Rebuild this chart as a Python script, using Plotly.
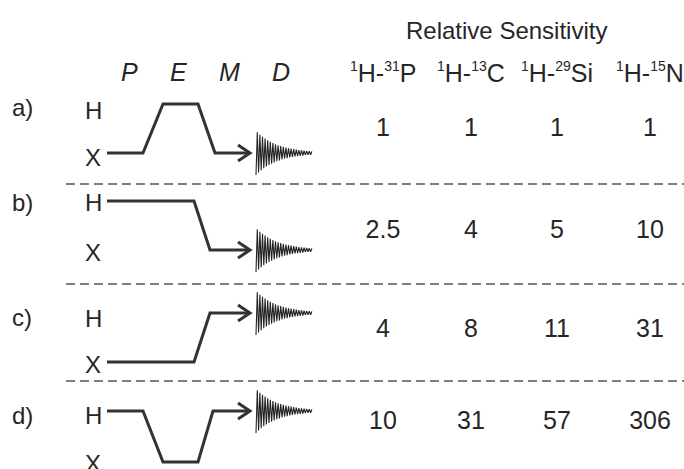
import plotly.graph_objects as go

# ---------------- data ----------------
title_text = "Relative Sensitivity"
header_mass_H = ["1", "1", "1", "1"]
header_mass_X = ["31", "13", "29", "15"]
header_elem_X = ["P", "C", "Si", "N"]
row_labels = ["a)", "b)", "c)", "d)"]
stage_labels = ["P", "E", "M", "D"]
values_31P = ["1", "2.5", "4", "10"]
values_13C = ["1", "4", "8", "31"]
values_29Si = ["1", "5", "11", "57"]
values_15N = ["1", "10", "31", "306"]
# FID peak amplitudes (alternating sign)
fid_peaks = [22, 20.7, 19.5, 18.3, 17.2, 16.2, 15.3, 14.4, 13.5, 12.7, 12, 11.3,
             10.6, 10, 9.4, 8.8, 8.3, 7.8, 7.4, 6.9, 6.5, 6.1, 5.8, 5.4, 5.1,
             4.8, 4.5, 4.3, 4, 3.8, 3.5, 3.3, 3.1, 3, 2.8, 2.6, 2.5, 2.3, 2.2,
             2.1, 1.9, 1.8, 1.7, 1.6]

# ---------------- geometry (pixel layout) ----------------
col_x = [383, 471, 557, 650]
value_row_y = [130, 232, 331, 423]
header_y = 72
stage_x = [129, 178, 229, 281]
label_row_y = [107, 202, 317, 415]
H_label_y = [110, 202, 318, 415]
X_label_y = [157, 252, 364, 463]
pathways = [
    ([107, 143, 163, 198, 215, 250], [153, 153, 104, 104, 153, 153]),
    ([107, 194, 210, 250], [201, 201, 250, 250]),
    ([107, 194, 210, 250], [362, 362, 313, 313]),
    ([107, 143, 163, 198, 213, 250], [411, 411, 462, 462, 411, 411]),
]
divider_y = [184, 284, 381]
fid_x0 = 256
fid_dx = 1.3

TXT = "#262626"
LINE = "#333333"
FONT = "Liberation Sans, Arial, sans-serif"


def sup(s):
    return "<sup><span style='font-size:14px'>" + s + "</span></sup>"


fig = go.Figure()

# dashed dividers
for yd in divider_y:
    fig.add_trace(go.Scatter(x=[66, 684], y=[yd, yd], mode="lines",
                             line=dict(color="#555555", width=1.6, dash="9px,5px"),
                             hoverinfo="skip", showlegend=False))

# pathways, arrows, FIDs
for px, py in pathways:
    fig.add_trace(go.Scatter(x=px, y=py, mode="lines",
                             line=dict(color=LINE, width=3), showlegend=False,
                             hoverinfo="skip"))
    tx, ty = px[-1], py[-1]
    fig.add_trace(go.Scatter(x=[tx - 12, tx, tx - 12], y=[ty - 8, ty, ty + 8],
                             mode="lines", line=dict(color=LINE, width=3),
                             showlegend=False, hoverinfo="skip"))
    fx = [fid_x0 + i * fid_dx for i in range(len(fid_peaks))]
    fy = [ty + (a if i % 2 == 0 else -a) for i, a in enumerate(fid_peaks)]
    fig.add_trace(go.Scatter(x=fx, y=fy, mode="lines",
                             line=dict(color="#222222", width=1.1),
                             showlegend=False, hoverinfo="skip"))

# values table
all_values = [values_31P, values_13C, values_29Si, values_15N]
for cx, vals in zip(col_x, all_values):
    fig.add_trace(go.Scatter(x=[cx] * len(vals), y=value_row_y, mode="text",
                             text=vals, textposition="middle center",
                             textfont=dict(family=FONT, size=25, color=TXT),
                             showlegend=False, hoverinfo="skip"))

ann = []
ann.append(dict(x=506, y=30, text=title_text, font=dict(family=FONT, size=24, color=TXT)))
for cx, mh, mx, ex in zip(col_x, header_mass_H, header_mass_X, header_elem_X):
    ann.append(dict(x=cx, y=header_y, text=sup(mh) + "H-" + sup(mx) + ex,
                    font=dict(family=FONT, size=25, color=TXT)))
for sx, s in zip(stage_x, stage_labels):
    ann.append(dict(x=sx, y=header_y, text="<i>" + s + "</i>",
                    font=dict(family=FONT, size=25, color=TXT)))
for ly, lab in zip(label_row_y, row_labels):
    ann.append(dict(x=22, y=ly, text=lab, font=dict(family=FONT, size=24, color=TXT)))
for hy in H_label_y:
    ann.append(dict(x=93, y=hy, text="H", font=dict(family=FONT, size=24, color=TXT)))
for xy in X_label_y:
    ann.append(dict(x=93, y=xy, text="X", font=dict(family=FONT, size=24, color=TXT)))
for a in ann:
    a.update(xref="x", yref="y", showarrow=False, xanchor="center", yanchor="middle")

fig.update_layout(
    width=684, height=469, autosize=False,
    margin=dict(l=0, r=0, t=0, b=0),
    paper_bgcolor="white", plot_bgcolor="white",
    xaxis=dict(range=[0, 684], visible=False, fixedrange=True),
    yaxis=dict(range=[469, 0], visible=False, fixedrange=True),
    annotations=ann,
    showlegend=False,
)

fig.write_html("out.html", config={"displayModeBar": False})
